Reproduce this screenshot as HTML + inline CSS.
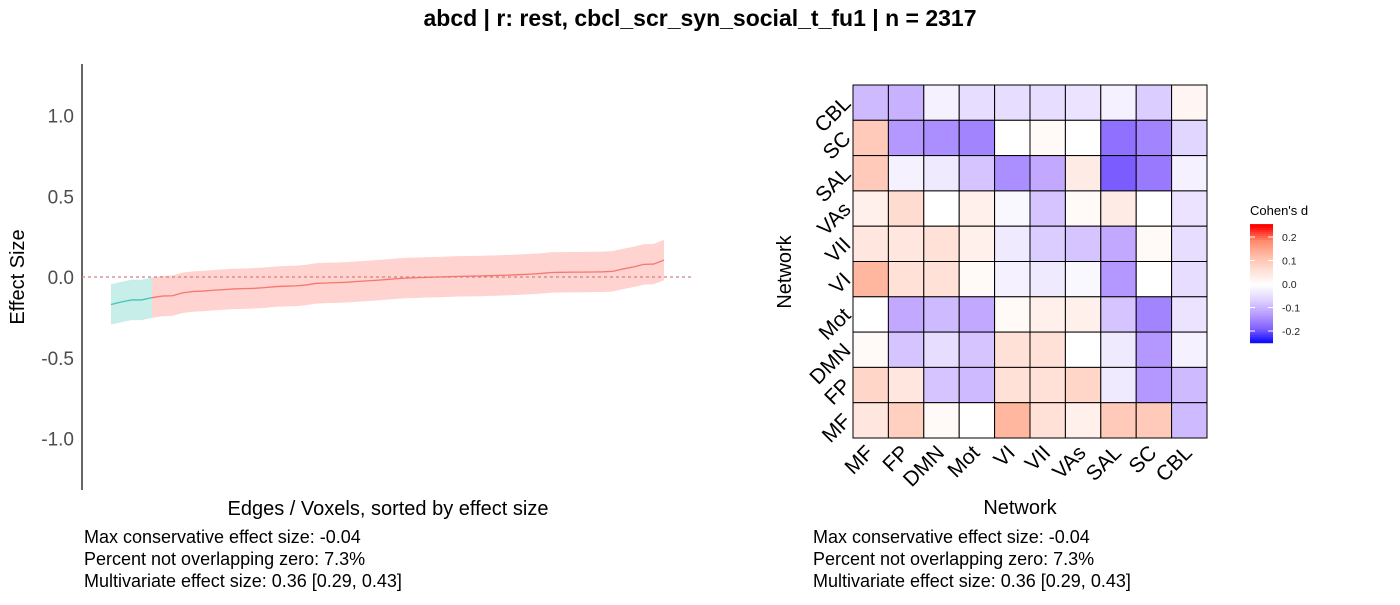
<!DOCTYPE html>
<html><head><meta charset="utf-8"><style>
body{margin:0;background:#fff;font-family:"Liberation Sans",sans-serif}
svg text{font-family:"Liberation Sans",sans-serif}
</style></head><body>
<svg id="s" width="1400" height="600" xmlns="http://www.w3.org/2000/svg">
<text x="700" y="26" text-anchor="middle" font-size="23" font-weight="bold">abcd | r: rest, cbcl_scr_syn_social_t_fu1 | n = 2317</text>
<g id="left"></g>
<g id="right"></g>
</svg>
<script>
const NS="http://www.w3.org/2000/svg";
const effects=[-0.17,-0.155,-0.142,-0.142,-0.128,-0.118,-0.116,-0.098,-0.09,-0.087,-0.082,-0.078,-0.074,-0.072,-0.07,-0.066,-0.06,-0.057,-0.055,-0.05,-0.04,-0.037,-0.035,-0.033,-0.028,-0.024,-0.02,-0.015,-0.01,-0.006,-0.004,-0.002,0.0,0.002,0.004,0.005,0.006,0.008,0.01,0.012,0.015,0.018,0.022,0.028,0.029,0.03,0.03,0.031,0.032,0.035,0.05,0.062,0.078,0.08,0.105];
const ciHalf=[0.125];
const yTicks=[1.0,0.5,0.0,-0.5,-1.0];
const yTickLabels=["1.0","0.5","0.0","-0.5","-1.0"];
const networks=["MF","FP","DMN","Mot","VI","VII","VAs","SAL","SC","CBL"];
const rowCBL=[-0.09,-0.1,-0.02,-0.05,-0.05,-0.05,-0.04,-0.02,-0.07,0.02];
const rowSC=[0.1,-0.13,-0.14,-0.15,0.0,0.01,0.0,-0.17,-0.15,-0.06];
const rowSAL=[0.1,-0.02,-0.03,-0.08,-0.14,-0.11,0.04,-0.19,-0.16,-0.02];
const rowVAs=[0.03,0.07,0,0.03,-0.01,-0.08,0.01,0.04,0.0,-0.04];
const rowVII=[0.05,0.05,0.06,0.03,-0.03,-0.07,-0.08,-0.11,0.01,-0.05];
const rowVI=[0.13,0.06,0.06,0.01,-0.02,-0.03,-0.01,-0.13,0.0,-0.05];
const rowMot=[0.0,-0.11,-0.09,-0.11,0.01,0.03,0.03,-0.08,-0.15,-0.04];
const rowDMN=[0.01,-0.08,-0.05,-0.08,0.06,0.06,0,-0.03,-0.13,-0.02];
const rowFP=[0.08,0.05,-0.08,-0.09,0.06,0.06,0.08,-0.03,-0.13,-0.09];
const rowMF=[0.05,0.09,0.01,0.0,0.13,0.06,0.03,0.1,0.1,-0.09];
const legendTicks=[0.2,0.1,0.0,-0.1,-0.2];
const legendTickLabels=["0.2","0.1","0.0","-0.1","-0.2"];

function el(tag,attrs,parent,text){const e=document.createElementNS(NS,tag);for(const k in attrs)e.setAttribute(k,attrs[k]);if(text!==undefined)e.textContent=text;parent.appendChild(e);return e;}
const L=document.getElementById('left'),R=document.getElementById('right');
const yS=v=>277-v*161.5;
const xS=i=>111+i*(664-111)/(effects.length-1);
let e;
e=el('line',{x1:82,y1:64,x2:82,y2:490,stroke:'#333','stroke-width':1.5},L);


yTicks.forEach((t,k)=>{
 e=el('text',{x:74,y:yS(t)+7,'text-anchor':'end','font-size':19,fill:'#4d4d4d'},L,yTickLabels[k]);
 
 
});
const h=ciHalf[0];
let splitIdx=effects.findIndex(v=>v+h>=0);
function band(i0,i1,fill,stroke,name){
 let top=[],bot=[],ln=[];
 for(let i=i0;i<=i1;i++){top.push(xS(i)+','+yS(effects[i]+h));bot.unshift(xS(i)+','+yS(effects[i]-h));ln.push(xS(i)+','+yS(effects[i]));}
 let p=el('polygon',{points:top.concat(bot).join(' '),fill:fill},L);
 
 
 let q=el('polyline',{points:ln.join(' '),fill:'none',stroke:stroke,'stroke-width':1.3},L);
 
 
}
band(0,splitIdx-1,'#c8eeea','#3fc6b6','significant');
band(splitIdx-1,effects.length-1,'#ffd3d0','#f8766d','nonsignificant');
e=el('line',{x1:82,y1:yS(0),x2:692,y2:yS(0),stroke:'#d08080','stroke-width':1.3,'stroke-dasharray':'3,3'},L);


e=el('text',{x:0,y:0,'font-size':20,transform:'translate(24,277) rotate(-90)','text-anchor':'middle'},L,'Effect Size');


e=el('text',{x:388,y:515,'font-size':20,'text-anchor':'middle'},L,'Edges / Voxels, sorted by effect size');


const notes=["Max conservative effect size: -0.04","Percent not overlapping zero: 7.3%","Multivariate effect size: 0.36 [0.29, 0.43]"];
notes.forEach((t,k)=>{
 e=el('text',{x:84,y:543+k*22,'font-size':18},L,t);
 
 
 e=el('text',{x:813,y:543+k*22,'font-size':18},R,t);
 
 
});
function mix(a,b,t){return a.map((v,i)=>Math.round(v+(b[i]-v)*t));}
function color(v){
 const posStops=[[255,255,255],[255,224,214],[255,187,165],[255,138,106],[255,0,0]];
 const negStops=[[255,255,255],[224,212,255],[184,156,255],[128,96,255],[0,0,255]];
 let t=Math.min(Math.abs(v)/0.25,1)*4;let st=v>=0?posStops:negStops;
 let i=Math.min(Math.floor(t),3);let c=mix(st[i],st[i+1],t-i);return 'rgb('+c.join(',')+')';
}
const rows=[rowCBL,rowSC,rowSAL,rowVAs,rowVII,rowVI,rowMot,rowDMN,rowFP,rowMF];
const rowNames=["CBL","SC","SAL","VAs","VII","VI","Mot","DMN","FP","MF"];
const x0=853,y0=85,cw=35.4,ch=35.3;
rows.forEach((r,ri)=>r.forEach((v,ci)=>{
 e=el('rect',{x:x0+ci*cw,y:y0+ri*ch,width:cw,height:ch,fill:color(v),stroke:'#000','stroke-width':1},R);
 
 
}));
rowNames.forEach((n,ri)=>{
 const cy=y0+ri*ch+ch/2;
 e=el('text',{x:0,y:0,'font-size':21,'text-anchor':'end',transform:`translate(852,${cy+2}) rotate(-45)`},R,n);
 
 
});
networks.forEach((n,ci)=>{
 const cx=x0+ci*cw+cw/2;
 e=el('text',{x:0,y:0,'font-size':21,'text-anchor':'end',transform:`translate(${cx+4},${454}) rotate(-45)`},R,n);
 
 
});
e=el('text',{x:1020,y:514,'font-size':20,'text-anchor':'middle'},R,'Network');


e=el('text',{x:0,y:0,'font-size':20,'text-anchor':'middle',transform:'translate(791,272) rotate(-90)'},R,'Network');


e=el('text',{x:1250,y:215,'font-size':13},R,"Cohen's d");


const ly=v=>284-v*235;
for(let k=0;k<60;k++){
 const v0=0.255-k*0.505/60;
 e=el('rect',{x:1250,y:ly(v0),width:23,height:0.505/60*235+0.5,fill:color(v0)},R);
 
 
}
legendTicks.forEach((t,k)=>{
 el('line',{x1:1250,x2:1255,y1:ly(t),y2:ly(t),stroke:'#fff'},R);
 el('line',{x1:1268,x2:1273,y1:ly(t),y2:ly(t),stroke:'#fff'},R);
 e=el('text',{x:1282,y:ly(t)+4,'font-size':10.5,fill:'#222'},R,legendTickLabels[k]);
 
 
});
</script>
</body></html>
